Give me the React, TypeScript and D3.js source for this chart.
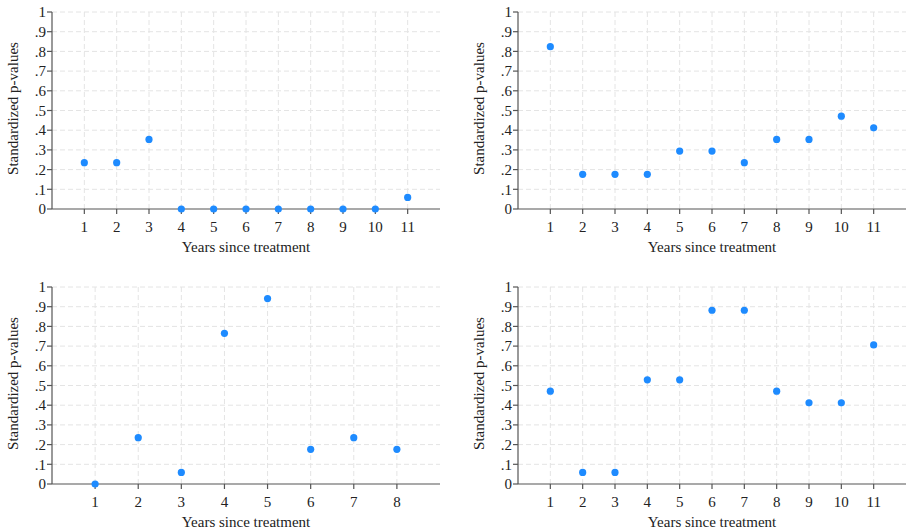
import * as d3 from 'd3';

// p-values per panel (years since treatment on x)
const yearsA = [1, 2, 3, 4, 5, 6, 7, 8, 9, 10, 11];
const pvalsA = [0.235, 0.235, 0.353, 0, 0, 0, 0, 0, 0, 0, 0.059];

const yearsB = [1, 2, 3, 4, 5, 6, 7, 8, 9, 10, 11];
const pvalsB = [0.824, 0.176, 0.176, 0.176, 0.294, 0.294, 0.235, 0.353, 0.353, 0.471, 0.412];

const yearsC = [1, 2, 3, 4, 5, 6, 7, 8];
const pvalsC = [0, 0.235, 0.059, 0.765, 0.941, 0.176, 0.235, 0.176];

const yearsD = [1, 2, 3, 4, 5, 6, 7, 8, 9, 10, 11];
const pvalsD = [0.471, 0.059, 0.059, 0.529, 0.529, 0.882, 0.882, 0.471, 0.412, 0.412, 0.706];

const yTicks = [0, 0.1, 0.2, 0.3, 0.4, 0.5, 0.6, 0.7, 0.8, 0.9, 1];
const yTickLabels = ['0', '.1', '.2', '.3', '.4', '.5', '.6', '.7', '.8', '.9', '1'];

const FONT = '"Liberation Serif", "Times New Roman", serif';
const AXIS = '#555';
const GRID = '#e4e4e4';
const DOT = '#1e8bff';

type PanelProps = { left: number; top: number; years: number[]; vals: number[] };

const Panel = ({ left, top, years, vals }: PanelProps) => {
  const plotW = 388;
  const plotH = 197;
  const x = d3.scaleLinear().domain([0, years.length + 1]).range([0, plotW]);
  const y = d3.scaleLinear().domain([0, 1]).range([plotH, 0]);

  return (
    <g transform={`translate(${left},${top})`}>
      {/* grid */}
      {yTicks.slice(1).map(t => (
        <line key={'h' + t} x1={0} x2={plotW} y1={y(t)} y2={y(t)}
          stroke={GRID} strokeWidth={1} strokeDasharray="5,3" />
      ))}
      {years.map(t => (
        <line key={'v' + t} x1={x(t)} x2={x(t)} y1={0} y2={plotH}
          stroke={GRID} strokeWidth={1} strokeDasharray="5,3" />
      ))}
      {/* axes */}
      <line x1={0} x2={0} y1={0} y2={plotH} stroke={AXIS} strokeWidth={1.2} />
      <line x1={0} x2={plotW} y1={plotH} y2={plotH} stroke={AXIS} strokeWidth={1.2} />
      {yTicks.map((t, i) => (
        <g key={'yt' + t}>
          <line x1={-5} x2={0} y1={y(t)} y2={y(t)} stroke={AXIS} strokeWidth={1.2} />
          <text x={-6} y={y(t)} dy="0.35em" textAnchor="end" fontSize={15}
            fontFamily={FONT} fill="#222">{yTickLabels[i]}</text>
        </g>
      ))}
      {years.map(t => (
        <g key={'xt' + t}>
          <line x1={x(t)} x2={x(t)} y1={plotH} y2={plotH + 5} stroke={AXIS} strokeWidth={1.2} />
          <text x={x(t)} y={plotH + 23} textAnchor="middle" fontSize={15}
            fontFamily={FONT} fill="#222">{t}</text>
        </g>
      ))}
      <text x={plotW / 2} y={plotH + 43} textAnchor="middle" fontSize={15}
        fontFamily={FONT} fill="#222">Years since treatment</text>
      <text transform={`translate(${-34},${plotH / 2 - 2}) rotate(-90)`} textAnchor="middle"
        fontSize={15} fontFamily={FONT} fill="#222">Standardized p-values</text>
      {/* points */}
      {years.map((t, i) => (
        <circle key={'p' + t} cx={x(t)} cy={y(vals[i])} r={3.6} fill={DOT} />
      ))}
    </g>
  );
};

export default function App() {
  return (
    <svg width={907} height={531} style={{ position: 'absolute', left: 0, top: 0, background: '#fff' }}>
      <Panel left={52} top={12} years={yearsA} vals={pvalsA} />
      <Panel left={518} top={12} years={yearsB} vals={pvalsB} />
      <Panel left={52} top={287} years={yearsC} vals={pvalsC} />
      <Panel left={518} top={287} years={yearsD} vals={pvalsD} />
    </svg>
  );
}
